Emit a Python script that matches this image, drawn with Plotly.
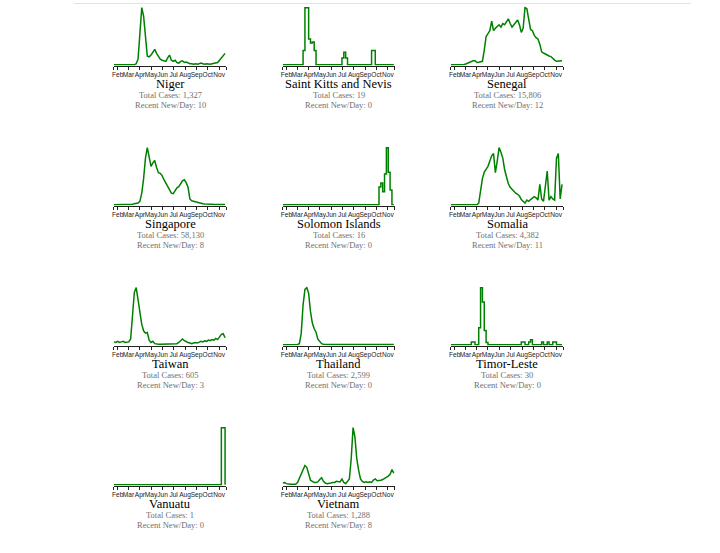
import pandas as pd
import plotly.graph_objects as go

# ---------------- data (7-day average new cases, relative units, 5-day grid) ----------------
dates = pd.date_range("2020-01-22", periods=61, freq="5D")

countries = ["Niger", "Saint Kitts and Nevis", "Senegal", "Singapore", "Solomon Islands",
             "Somalia", "Taiwan", "Thailand", "Timor-Leste", "Vanuatu", "Vietnam"]
total_cases = ["1,327", "19", "15,806", "58,130", "16", "4,382", "605", "2,599", "30", "1", "1,288"]
recent_per_day = [10, 0, 12, 8, 0, 11, 3, 0, 0, 0, 8]

niger = [0, 0, 0, 0, 0, 0, 0, 0, 0, 0, 0, 0, 2, 10, 55, 100, 85, 50, 15, 14,
         17, 22, 27, 20, 14, 10, 8, 7, 6, 12, 17, 8, 6, 8, 4, 3, 6, 7, 4, 5,
         3, 2, 2, 1, 2, 1, 2, 3, 2, 1, 2, 1, 1, 2, 3, 3, 4, 8, 12, 18, 20]
saint_kitts = [0, 0, 0, 0, 0, 0, 0, 0, 0, 0, 0, 25, 100, 100, 45, 38, 40, 25, 0, 0,
               0, 0, 0, 0, 0, 0, 0, 0, 0, 0, 0, 0, 12, 22, 12, 0, 0, 0, 0, 0,
               0, 0, 0, 0, 0, 0, 0, 0, 25, 25, 0, 0, 0, 0, 0, 0, 0, 0, 0, 0, 0]
senegal = [0, 0, 0, 0, 0, 0, 0, 0.5, 1.5, 3, 4, 5, 7, 7, 4, 4.5, 5, 6, 25, 48,
           53, 58, 74, 58, 62, 66, 68, 64, 70, 68, 72, 78, 70, 64, 68, 72, 76, 68, 55, 62,
           97, 95, 80, 60, 58, 50, 46, 44, 35, 22, 20, 18, 17, 15, 14, 10, 8, 6, 6, 6.5, 7]
singapore = [0, 0, 0, 0, 0, 0, 0.5, 0.5, 0.5, 0.5, 1, 2, 3, 3, 6, 20, 45, 80, 98, 82,
             66, 72, 76, 64, 55, 54, 50, 43, 37, 30, 24, 20, 19, 25, 29, 31, 37, 41, 43, 38,
             30, 10, 7, 6, 5, 5, 4, 3, 2, 1.5, 1, 1, 0.8, 0.8, 0.6, 0.6, 0.5, 0.5, 0.5, 0.5, 0.5]
solomon = [0, 0, 0, 0, 0, 0, 0, 0, 0, 0, 0, 0, 0, 0, 0, 0, 0, 0, 0, 0,
           0, 0, 0, 0, 0, 0, 0, 0, 0, 0, 0, 0, 0, 0, 0, 0, 0, 0, 0, 0,
           0, 0, 0, 0, 0, 0, 0, 0, 0, 0, 0, 0, 31, 38, 23, 54, 100, 57, 26, 0, 0]
somalia = [0, 0, 0, 0, 0, 0, 0, 0, 0, 0, 0, 0, 0, 0, 0, 3, 25, 45, 56, 60,
           66, 75, 84, 88, 55, 75, 98, 90, 80, 60, 48, 36, 30, 26, 24, 20, 18, 15, 9, 5,
           3, 8, 6, 9, 11, 14, 12, 8, 35, 10, 6, 38, 58, 8, 14, 10, 8, 80, 88, 10, 35]
taiwan = [5, 4, 6, 4, 5, 6, 4, 5, 5, 10, 45, 90, 98, 75, 55, 35, 24, 20, 21, 8,
          4, 6, 2, 1, 1, 1, 1, 1, 1, 1, 1, 1, 1, 1, 2, 4, 8, 10, 7, 5,
          4, 3, 2, 3, 4, 3, 5, 6, 5, 7, 6, 8, 7, 9, 8, 11, 9, 14, 18, 19, 12]
thailand = [0, 0, 0, 0, 0, 0, 0, 0, 0.5, 2, 20, 70, 97, 100, 90, 58, 38, 28, 22, 10,
            5, 2, 1, 0.5, 0.5, 0.4, 0.4, 0.3, 0.3, 0.3, 0.3, 0.3, 0.3, 0.5, 0.4, 0.4, 0.3, 0.4, 0.5, 0.4,
            0.4, 0.5, 0.4, 0.5, 0.6, 0.5, 0.5, 0.6, 0.5, 0.6, 0.5, 0.6, 0.5, 0.6, 0.6, 0.5, 0.6, 0.6, 0.5, 0.6, 0.5]
timor = [0, 0, 0, 0, 0, 0, 0, 0, 0, 0, 0, 5, 5, 0, 0, 30, 100, 75, 25, 4,
         0, 0, 0, 0, 0, 0, 0, 0, 0, 0, 0, 0, 0, 0, 0, 0, 0, 0, 5, 5,
         0, 0, 5, 9, 0, 0, 0, 0, 0, 5, 0, 0, 5, 0, 0, 5, 5, 0, 0, 0, 0]
vanuatu = [0, 0, 0, 0, 0, 0, 0, 0, 0, 0, 0, 0, 0, 0, 0, 0, 0, 0, 0, 0,
           0, 0, 0, 0, 0, 0, 0, 0, 0, 0, 0, 0, 0, 0, 0, 0, 0, 0, 0, 0,
           0, 0, 0, 0, 0, 0, 0, 0, 0, 0, 0, 0, 0, 0, 0, 0, 0, 0, 100, 100, 0]
vietnam = [3, 4, 2, 1, 1, 1, 1, 1, 4, 12, 20, 28, 33, 30, 18, 8, 6, 4, 4, 5,
           9, 12, 6, 3, 2, 2, 3, 4, 4, 6, 5, 5, 10, 4, 2, 6, 10, 45, 98, 82,
           45, 25, 10, 6, 4, 5, 4, 5, 4, 8, 10, 7, 7, 8, 9, 11, 12, 15, 18, 26, 20]

series = [niger, saint_kitts, senegal, singapore, solomon, somalia,
          taiwan, thailand, timor, vanuatu, vietnam]
step_countries = {"Saint Kitts and Nevis", "Solomon Islands", "Timor-Leste", "Vanuatu"}

month_ticks = ["2020-02-01", "2020-03-01", "2020-04-01", "2020-05-01", "2020-06-01",
               "2020-07-01", "2020-08-01", "2020-09-01", "2020-10-01", "2020-11-01"]
month_labels = ["Feb", "Mar", "Apr", "May", "Jun", "Jul", "Aug", "Sep", "Oct", "Nov"]
x_start, x_end = "2020-01-22", "2020-11-20"

# ---------------- layout ----------------
W, H = 720, 553
col_x = [112.3, 281.5, 450.2]
plot_w = 112.5
row_axis_y = [65.5, 205.5, 345.5, 485.5]
plot_h = 59

fig = go.Figure()
annotations = []
for k, (name, vals) in enumerate(zip(countries, series)):
    r, c = divmod(k, 3)
    idx = k + 1
    xa = "x" if idx == 1 else f"x{idx}"
    ya = "y" if idx == 1 else f"y{idx}"
    fig.add_trace(go.Scatter(
        x=dates, y=vals, mode="lines", xaxis=xa, yaxis=ya,
        line=dict(color="#008000", width=1.5,
                  shape="hv" if name in step_countries else "linear"),
        hoverinfo="skip", showlegend=False))
    x0 = col_x[c]
    yb = row_axis_y[r]
    vmax = max(vals)
    xkey = "xaxis" if idx == 1 else f"xaxis{idx}"
    ykey = "yaxis" if idx == 1 else f"yaxis{idx}"
    fig.update_layout(**{
        xkey: dict(domain=[x0 / W, (x0 + plot_w) / W], anchor=ya,
                   range=[x_start, x_end], showgrid=False, zeroline=False,
                   showline=True, linecolor="#222", linewidth=1,
                   ticks="outside", ticklen=3, tickwidth=1, tickcolor="#222",
                   tickvals=[x_start] + month_ticks + [x_end],
                   ticktext=[""] + month_labels + [""],
                   tickangle=0, ticklabelstandoff=0,
                   tickfont=dict(family="Liberation Sans", size=6.6, color="#222"),
                   fixedrange=True),
        ykey: dict(domain=[(H - yb) / H, (H - yb + plot_h) / H], anchor=xa,
                   range=[-vmax * 0.012, vmax * 1.02], visible=False, fixedrange=True),
    })
    cx = (x0 + plot_w / 2) / W
    annotations += [
        dict(text=name, x=cx, y=(H - (yb + 18.5)) / H, xref="paper", yref="paper",
             showarrow=False, xanchor="center", yanchor="middle",
             font=dict(family="Liberation Serif", size=12.5, color="#000")),
        dict(text=f"Total Cases: {total_cases[k]}", x=cx, y=(H - (yb + 29.5)) / H,
             xref="paper", yref="paper", showarrow=False, xanchor="center", yanchor="middle",
             font=dict(family="Liberation Serif", size=8.5, color="#707070")),
        dict(text=f"Recent New/Day: {recent_per_day[k]}", x=cx, y=(H - (yb + 39.5)) / H,
             xref="paper", yref="paper", showarrow=False, xanchor="center", yanchor="middle",
             font=dict(family="Liberation Serif", size=8.5, color="#707070")),
    ]

fig.update_layout(
    width=W, height=H, margin=dict(l=0, r=0, t=0, b=0),
    paper_bgcolor="white", plot_bgcolor="white",
    annotations=annotations,
    shapes=[dict(type="line", xref="paper", yref="paper",
                 x0=72 / W, x1=691 / W, y0=(H - 3.5) / H, y1=(H - 3.5) / H,
                 line=dict(color="#e2e2e2", width=1))],
)

fig.write_html("out.html")
